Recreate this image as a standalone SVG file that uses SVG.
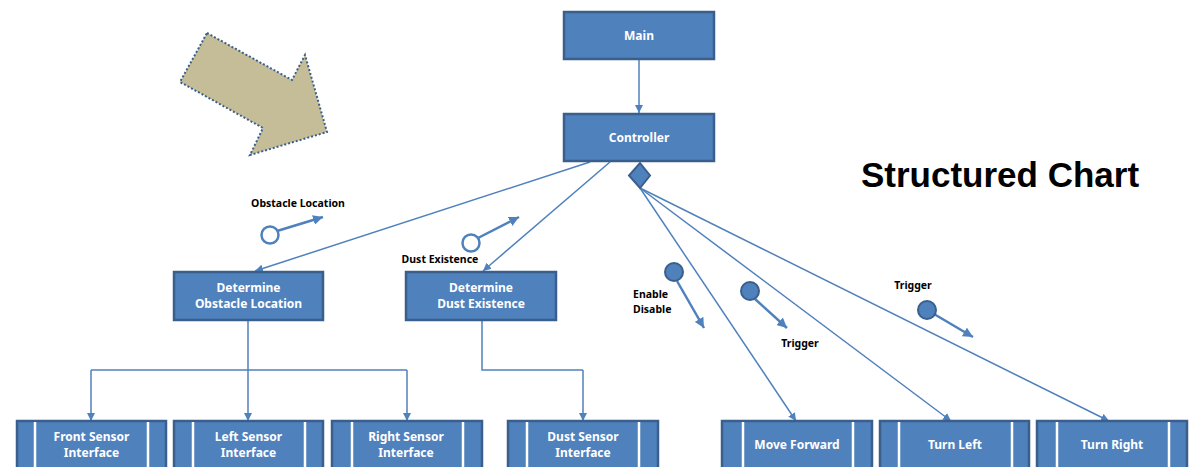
<svg xmlns="http://www.w3.org/2000/svg" width="1189" height="467" viewBox="0 0 1189 467">
<defs>
<style>
.box{fill:#4F81BD;stroke:#3A5F8C;stroke-width:2.5}
.inner{stroke:#FFFFFF;stroke-width:2.5}
.lbl{font-family:"Noto Sans","Open Sans",sans-serif;font-weight:bold;font-size:12px;fill:#FFFFFF;text-anchor:middle}
.cpl{font-family:"Noto Sans","Open Sans",sans-serif;font-weight:bold;font-size:10.5px;fill:#000000}
.con{stroke:#4F81BD;stroke-width:1.5;fill:none}
.cup{stroke:#4F81BD;stroke-width:2.5;fill:none}
.oc{fill:#FFFFFF;stroke:#4F81BD;stroke-width:2.5}
.fc{fill:#4F81BD;stroke:#3A5F8C;stroke-width:2}
</style>
<marker id="ah" viewBox="0 0 10 10" refX="10" refY="5" markerWidth="8" markerHeight="8" markerUnits="userSpaceOnUse" orient="auto">
<path d="M0,0 L10,5 L0,10 z" fill="#4F81BD"/>
</marker>
<marker id="ah2" viewBox="0 0 10 10" refX="10" refY="5" markerWidth="4" markerHeight="4" orient="auto">
<path d="M0,0 L10,5 L0,10 z" fill="#4F81BD"/>
</marker>
</defs>
<rect width="1189" height="467" fill="#FFFFFF"/>

<polygon points="207,33 292,80 305,55 327,132 250,155 263,128 180,82" fill="#C4BD97" stroke="#3A5F8C" stroke-width="2" stroke-dasharray="2,2"/>

<text x="1000" y="187" font-family="Liberation Sans,Arial,sans-serif" font-weight="bold" font-size="35" text-anchor="middle" fill="#000000">Structured Chart</text>

<g id="connectors">
<line class="con" x1="639" y1="59" x2="639" y2="113" marker-end="url(#ah)"/>
<line class="con" x1="590" y1="162" x2="255" y2="271" marker-end="url(#ah)"/>
<line class="con" x1="610" y1="162" x2="483" y2="271" marker-end="url(#ah)"/>
<line class="con" x1="640" y1="188" x2="796" y2="421" marker-end="url(#ah)"/>
<line class="con" x1="640" y1="188" x2="951" y2="421" marker-end="url(#ah)"/>
<line class="con" x1="640" y1="188" x2="1109" y2="421" marker-end="url(#ah)"/>
<polyline class="con" points="248,321 248,370"/>
<line class="con" x1="248" y1="370" x2="248" y2="421" marker-end="url(#ah)"/>
<polyline class="con" points="91,370 407,370"/>
<line class="con" x1="91" y1="370" x2="91" y2="421" marker-end="url(#ah)"/>
<line class="con" x1="407" y1="370" x2="407" y2="421" marker-end="url(#ah)"/>
<polyline class="con" points="482,321 482,370 583,370"/>
<line class="con" x1="583" y1="370" x2="583" y2="421" marker-end="url(#ah)"/>
<polygon points="640,163 650,175.5 640,188 629,175.5" fill="#4F81BD" stroke="#3A5F8C" stroke-width="2"/>
</g>

<g id="couple-obstacle">
<line class="cup" x1="277" y1="231" x2="323" y2="217" marker-end="url(#ah2)"/>
<circle class="oc" cx="270" cy="235" r="8.5"/>
<text class="cpl" x="298" y="207" text-anchor="middle">Obstacle Location</text>
</g>
<g id="couple-dust">
<line class="cup" x1="478" y1="238" x2="519" y2="217" marker-end="url(#ah2)"/>
<circle class="oc" cx="471" cy="243" r="8.5"/>
<text class="cpl" x="440" y="263" text-anchor="middle">Dust Existence</text>
</g>
<g id="couple-enable">
<line class="cup" x1="677" y1="281" x2="704" y2="328" marker-end="url(#ah2)"/>
<circle class="fc" cx="674" cy="272" r="9"/>
<text class="cpl" x="633" y="298">Enable</text>
<text class="cpl" x="633" y="313">Disable</text>
</g>
<g id="couple-trigger1">
<line class="cup" x1="755" y1="299" x2="787" y2="328" marker-end="url(#ah2)"/>
<circle class="fc" cx="750" cy="291" r="9"/>
<text class="cpl" x="800" y="347" text-anchor="middle">Trigger</text>
</g>
<g id="couple-trigger2">
<line class="cup" x1="934" y1="314" x2="973" y2="337" marker-end="url(#ah2)"/>
<circle class="fc" cx="927" cy="310" r="9"/>
<text class="cpl" x="913" y="289" text-anchor="middle">Trigger</text>
</g>

<g id="main">
<rect class="box" x="564" y="12" width="150" height="47"/>
<text class="lbl" x="639" y="40">Main</text>
</g>
<g id="controller">
<rect class="box" x="564" y="114" width="150" height="47"/>
<text class="lbl" x="639" y="142">Controller</text>
</g>
<g id="determine-obstacle">
<rect class="box" x="174" y="272" width="149" height="48"/>
<text class="lbl" x="248.5" y="292">Determine</text>
<text class="lbl" x="248.5" y="308">Obstacle Location</text>
</g>
<g id="determine-dust">
<rect class="box" x="406" y="272" width="150" height="48"/>
<text class="lbl" x="481" y="292">Determine</text>
<text class="lbl" x="481" y="308">Dust Existence</text>
</g>

<g id="front-sensor">
<rect class="box" x="17" y="421" width="149" height="50"/>
<line class="inner" x1="35" y1="422" x2="35" y2="470"/>
<line class="inner" x1="148" y1="422" x2="148" y2="470"/>
<text class="lbl" x="91.5" y="441">Front Sensor</text>
<text class="lbl" x="91.5" y="457">Interface</text>
</g>
<g id="left-sensor">
<rect class="box" x="174" y="421" width="149" height="50"/>
<line class="inner" x1="193" y1="422" x2="193" y2="470"/>
<line class="inner" x1="305" y1="422" x2="305" y2="470"/>
<text class="lbl" x="248.5" y="441">Left Sensor</text>
<text class="lbl" x="248.5" y="457">Interface</text>
</g>
<g id="right-sensor">
<rect class="box" x="332" y="421" width="150" height="50"/>
<line class="inner" x1="352" y1="422" x2="352" y2="470"/>
<line class="inner" x1="463" y1="422" x2="463" y2="470"/>
<text class="lbl" x="406" y="441">Right Sensor</text>
<text class="lbl" x="406" y="457">Interface</text>
</g>
<g id="dust-sensor">
<rect class="box" x="508" y="421" width="150" height="50"/>
<line class="inner" x1="527" y1="422" x2="527" y2="470"/>
<line class="inner" x1="639" y1="422" x2="639" y2="470"/>
<text class="lbl" x="583" y="441">Dust Sensor</text>
<text class="lbl" x="583" y="457">Interface</text>
</g>
<g id="move-forward">
<rect class="box" x="722" y="421" width="150" height="50"/>
<line class="inner" x1="743" y1="422" x2="743" y2="470"/>
<line class="inner" x1="853" y1="422" x2="853" y2="470"/>
<text class="lbl" x="797" y="449">Move Forward</text>
</g>
<g id="turn-left">
<rect class="box" x="880" y="421" width="149" height="50"/>
<line class="inner" x1="899" y1="422" x2="899" y2="470"/>
<line class="inner" x1="1012" y1="422" x2="1012" y2="470"/>
<text class="lbl" x="955" y="449">Turn Left</text>
</g>
<g id="turn-right">
<rect class="box" x="1037" y="421" width="150" height="50"/>
<line class="inner" x1="1057" y1="422" x2="1057" y2="470"/>
<line class="inner" x1="1169" y1="422" x2="1169" y2="470"/>
<text class="lbl" x="1112" y="449">Turn Right</text>
</g>
</svg>
